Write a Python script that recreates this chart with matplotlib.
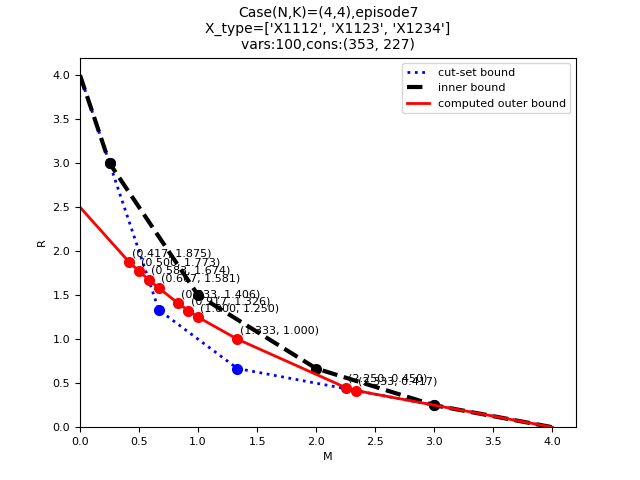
import numpy as np
import matplotlib
matplotlib.use('Agg')
import matplotlib.pyplot as plt

# cut-set bound corner points
cut_M = [0, 0.25, 0.667, 1.333, 3, 4]
cut_R = [4, 3, 1.333, 0.667, 0.25, 0]

# inner bound corner points
inner_M = [0, 0.25, 1, 2, 3, 4]
inner_R = [4, 3, 1.5, 0.667, 0.25, 0]

# computed outer bound
outer_M = [0, 0.417, 0.5, 0.583, 0.667, 0.833, 0.917, 1.0, 1.333, 2.25, 2.333, 4]
outer_R = [2.5, 1.875, 1.773, 1.674, 1.581, 1.406, 1.326, 1.25, 1.0, 0.45, 0.417, 0]

fig = plt.figure(figsize=(6.4, 4.8), dpi=100)
plt.plot(cut_M, cut_R, ':', color='blue', linewidth=2, label='cut-set bound')
plt.plot(cut_M[1:-1], cut_R[1:-1], 'o', color='blue', markersize=7)
plt.plot(inner_M, inner_R, '--', color='black', linewidth=3, label='inner bound')
plt.plot(inner_M[1:-1], inner_R[1:-1], 'o', color='black', markersize=7)
plt.plot(outer_M, outer_R, '-', color='red', linewidth=2, label='computed outer bound')
plt.plot(outer_M[1:-1], outer_R[1:-1], 'o', color='red', markersize=7)

# подписи точек внешней границы
for m, r in zip(outer_M[1:-1], outer_R[1:-1]):
    plt.text(m + 0.02, r + 0.07, '({:.3f}, {:.3f})'.format(m, r), fontsize=8)

plt.xlim(0, 4.2)
plt.ylim(0, 4.2)
plt.xlabel('M', fontsize=8)
plt.ylabel('R', fontsize=8)
plt.xticks(fontsize=8)
plt.yticks(fontsize=8)
plt.title("Case(N,K)=(4,4),episode7\nX_type=['X1112', 'X1123', 'X1234']\nvars:100,cons:(353, 227)", fontsize=10)
plt.legend(fontsize=8)
plt.savefig('out.png')
